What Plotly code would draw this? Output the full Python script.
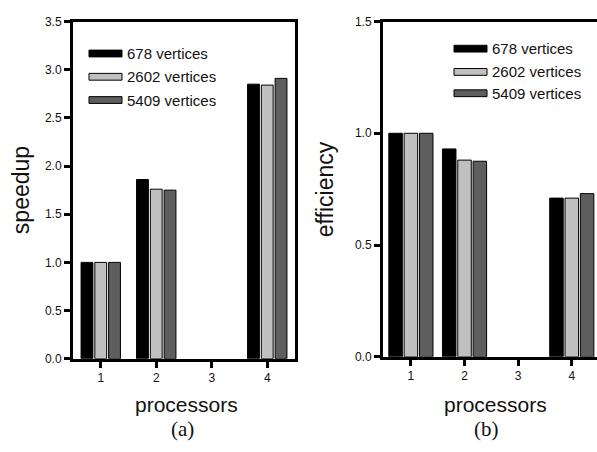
import plotly.graph_objects as go

categories = [1, 2, 3, 4]
series_names = ["678 vertices", "2602 vertices", "5409 vertices"]
speedup = {
    "678 vertices": [1.00, 1.86, None, 2.85],
    "2602 vertices": [1.00, 1.76, None, 2.84],
    "5409 vertices": [1.00, 1.75, None, 2.91],
}
efficiency = {
    "678 vertices": [1.00, 0.93, None, 0.71],
    "2602 vertices": [1.00, 0.88, None, 0.71],
    "5409 vertices": [1.00, 0.875, None, 0.73],
}
colors = ["#000000", "#c0c0c0", "#5e5e5e"]
y1_ticks = [0, 0.5, 1.0, 1.5, 2.0, 2.5, 3.0, 3.5]
y2_ticks = [0, 0.5, 1.0, 1.5]

W, H = 597, 452
FONT = "Liberation Sans"
SERIF = "Liberation Serif"

fig = go.Figure()

def add_group(data, xa, ya, group_w, bar_w):
    slot = group_w / 3
    for i, name in enumerate(series_names):
        off = -group_w / 2 + i * slot + (slot - bar_w) / 2
        fig.add_trace(go.Bar(
            x=categories, y=data[name], name=name,
            xaxis=xa, yaxis=ya, width=bar_w, offset=off,
            marker=dict(color=colors[i], line=dict(color="black", width=1)),
            showlegend=False,
        ))

add_group(speedup, "x", "y", 0.745, 0.213)
add_group(efficiency, "x2", "y2", 0.857, 0.252)

def px(x):
    return x / W

def py(y):
    return 1 - y / H

axis_common = dict(
    showline=True, linecolor="black", linewidth=3,
    ticks="outside", tickcolor="black", tickwidth=2.5,
    showgrid=False, zeroline=False,
    tickfont=dict(family=FONT, size=12, color="#111"),
)

fig.update_layout(
    width=W, height=H,
    margin=dict(l=0, r=0, t=0, b=0),
    paper_bgcolor="white", plot_bgcolor="white",
    barmode="overlay",
    xaxis=dict(domain=[px(73), px(295)], range=[0.5, 4.5],
               tickvals=categories, ticklen=6, mirror=True, anchor="y",
               **axis_common),
    yaxis=dict(domain=[py(363), py(15)], range=[0, 3.5],
               tickvals=y1_ticks, tickformat=".1f", ticklen=6, mirror=True,
               anchor="x", **axis_common),
    xaxis2=dict(domain=[px(383), 1.0], range=[0.48, 4.47],
                tickvals=categories, ticklen=6, mirror=True, anchor="y2",
                **axis_common),
    yaxis2=dict(domain=[py(361), py(15)], range=[0, 1.5],
                tickvals=y2_ticks, tickformat=".1f", ticklen=6, mirror=False,
                anchor="x2", **axis_common),
)

annotations = []
shapes = []

def add_legend(x0, x1, xt, rows):
    for i, name in enumerate(series_names):
        yc = rows[i]
        shapes.append(dict(type="rect", xref="paper", yref="paper",
                           x0=px(x0), x1=px(x1), y0=py(yc + 3.5), y1=py(yc - 3.5),
                           fillcolor=colors[i], line=dict(color="black", width=1)))
        annotations.append(dict(xref="paper", yref="paper", x=px(xt), y=py(yc),
                                text=name, showarrow=False, xanchor="left",
                                yanchor="middle",
                                font=dict(family=FONT, size=15, color="#111")))

add_legend(89, 122, 125, [48, 72, 96])
add_legend(454, 487, 490, [43, 67, 89])

def label(x, y, text, size, family=FONT, angle=0):
    annotations.append(dict(xref="paper", yref="paper", x=px(x), y=py(y),
                            text=text, showarrow=False, xanchor="center",
                            yanchor="middle", textangle=angle,
                            font=dict(family=family, size=size, color="#111")))

label(21, 189, "speedup", 23, angle=-90)
label(325, 188, "efficiency", 23, angle=-90)
label(186, 410, "processors", 21)
label(495, 410, "processors", 21)
label(182, 435, "(a)", 21, family=SERIF)
label(486, 435, "(b)", 21, family=SERIF)

fig.update_layout(annotations=annotations, shapes=shapes)

fig.write_html("out.html")
